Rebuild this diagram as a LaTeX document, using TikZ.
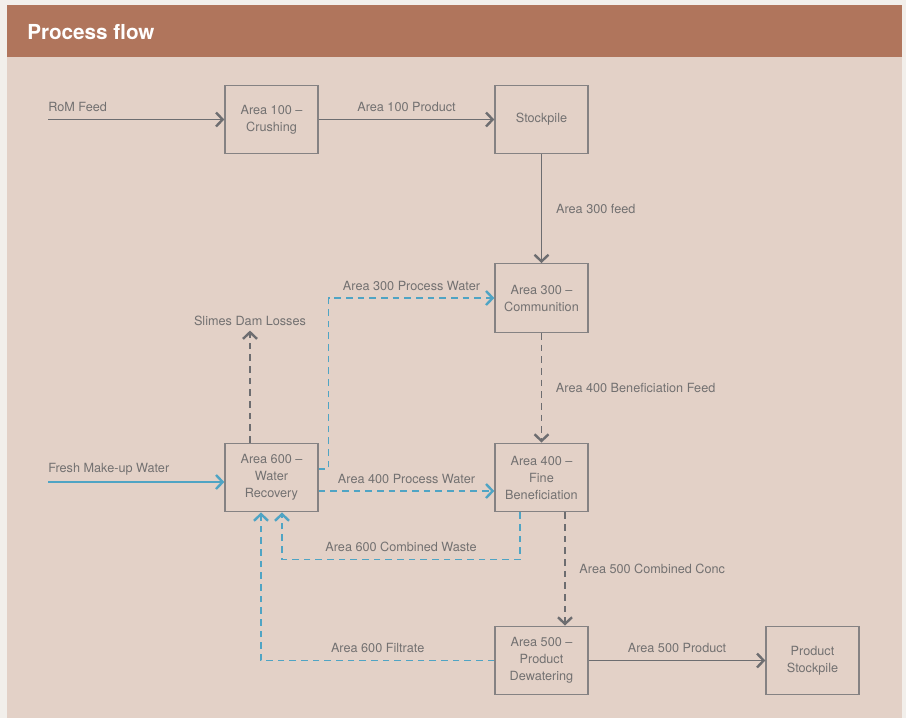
\documentclass[tikz,border=0pt]{standalone}
\usepackage{fontspec}
\setmainfont{TeX Gyre Heros}
\usetikzlibrary{calc}
\usetikzlibrary{arrows.meta}
\tikzset{>={Straight Barb[length=5pt,width=10.5pt,line width=1.8pt]}}
\usepackage{xcolor}
\definecolor{pagegrey}{HTML}{F2EFEB}
\definecolor{panel}{HTML}{E3D1C7}
\definecolor{banner}{HTML}{B0755C}
\definecolor{linegrey}{HTML}{6D6D70}
\definecolor{textgrey}{HTML}{737171}
\definecolor{boxgrey}{HTML}{858283}
\definecolor{water}{HTML}{4FA4C4}
\tikzstyle{unit}=[draw=boxgrey,line width=1pt,minimum width=69.75pt,minimum height=51.4pt,align=center,text=textgrey,font=\fontsize{9.5}{12.75}\selectfont,inner sep=2pt]
\tikzstyle{lbl}=[text=textgrey,font=\fontsize{9.5}{12}\selectfont]
\tikzstyle{flow}=[->,linegrey,line width=1.3pt]
\tikzstyle{flowd}=[flow,line width=1pt,dash pattern=on 5pt off 3.75pt]
\tikzstyle{wet}=[->,water,line width=1.2pt]
\tikzstyle{wetd}=[wet,line width=1pt,dash pattern=on 5pt off 3.75pt]

\begin{document}
\begin{tikzpicture}[x=0.75pt,y=-0.75pt]
 % frame and title bar
 \fill[pagegrey] (0,0) rectangle (906,718);
 \fill[panel] (7,5) rectangle (902,718);
 \fill[banner] (7,5) rectangle (902,57);
 \node[anchor=west,inner sep=0,text=white,font=\fontsize{15.5}{16}\selectfont\bfseries] (title) at (27,32) {Process flow};
 %
 \foreach \N/\X/\Y/\T in {a100/271.5/119.5/{Area 100 –\\Crushing},
   stock/541.5/119.5/{Stockpile},
   a300/541.5/298/{Area 300 –\\Communition},
   a600/271.5/477.5/{Area 600 –\\Water\\Recovery},
   a400/541.5/477.5/{Area 400 –\\Fine\\Beneficiation},
   a500/541.5/660.5/{Area 500 –\\Product\\Dewatering},
   prod/812.5/660.5/{Product\\Stockpile}}
 {\node[unit] (\N) at (\X,\Y) {\T};}
 %
 \coordinate (rom) at (48,119.5);
 \coordinate (fresh) at (48,482);
 \node[lbl,anchor=west,inner sep=0] (romlbl) at (48,107) {RoM Feed};
 \node[lbl,anchor=west,inner sep=0] (freshlbl) at (48,469) {Fresh Make-up Water};
 \node[lbl] (slimes) at (250,321) {Slimes Dam Losses};
 %
 % ore route
 \draw[flow] (rom) -- (rom -| a100.west);
 \draw[flow] (a100) -- node[lbl,above=2pt]{Area 100 Product} (stock);
 \draw[flow] (stock) -- node[lbl,right=7pt]{Area 300 feed} (a300);
 \draw[flowd] (a300) -- node[lbl,right=7pt]{Area 400 Beneficiation Feed} (a400);
 \draw[flowd] ($(a400.south)+(23.5,0)$) -- node[lbl,right=7pt]{Area 500 Combined Conc} ($(a500.north)+(23.5,0)$);
 \draw[flow] (a500) -- node[lbl,above=2pt]{Area 500 Product} (prod);
 \draw[flowd] (a600.north -| slimes.south) -- (slimes.south);
 %
 % water circuit
 \draw[wet] (fresh) -- (fresh -| a600.west);
 \draw[wetd] ($(a600.east)+(0,-8.5)$) -- ++(10,0) |- node[lbl,pos=0.75,above=2pt]{Area 300 Process Water} (a300.west);
 \draw[wetd] ($(a600.east)+(0,13.5)$) -- node[lbl,above=2pt]{Area 400 Process Water} ($(a400.west)+(0,13.5)$);
 \draw[wetd] ($(a400.south)+(-21.5,0)$) -- ++(0,47) -| node[lbl,pos=0.25,above=2pt]{Area 600 Combined Waste} ($(a600.south)+(10.5,0)$);
 \draw[wetd] (a500.west) -| node[lbl,pos=0.25,above=2pt]{Area 600 Filtrate} ($(a600.south)+(-10.5,0)$);
\end{tikzpicture}
\end{document}
